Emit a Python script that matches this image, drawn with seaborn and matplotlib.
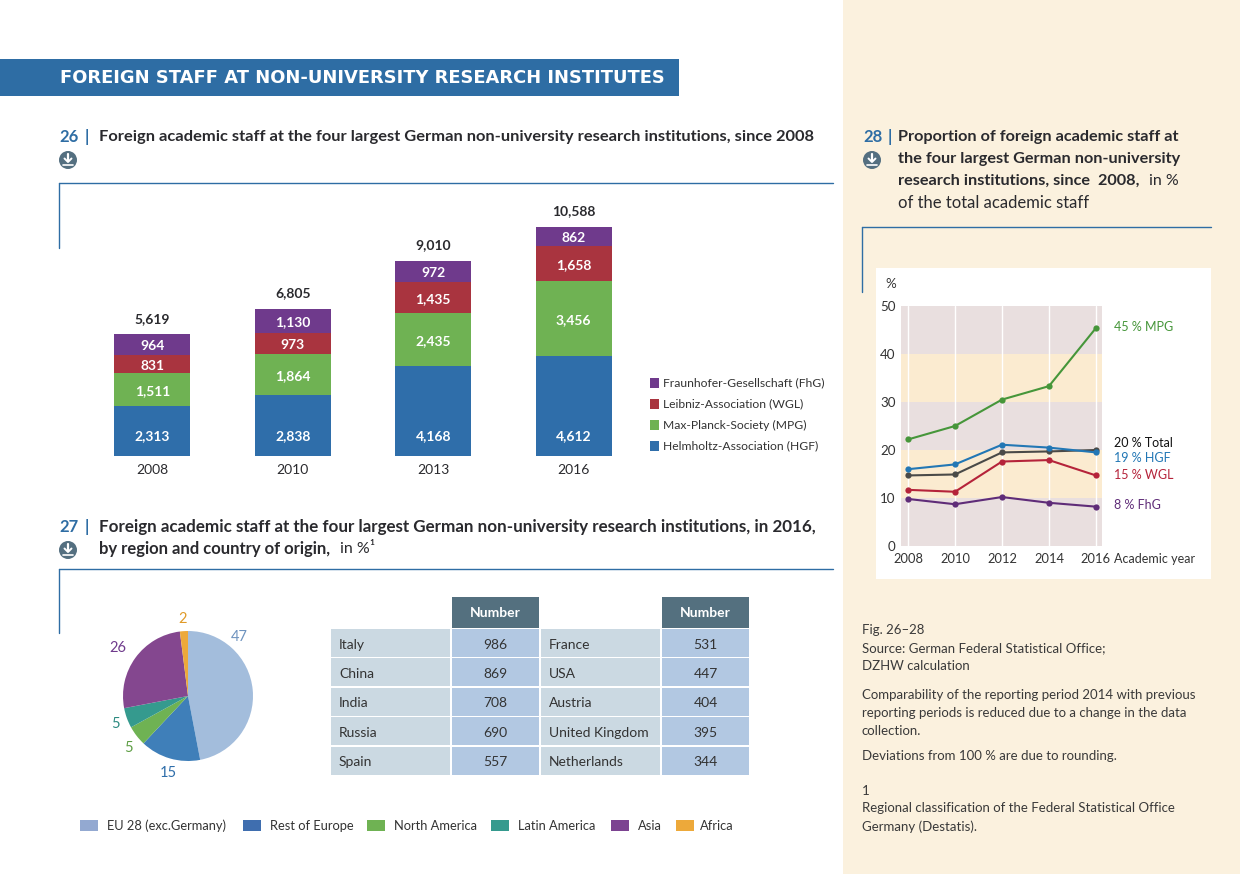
import matplotlib
matplotlib.use("Agg")
import matplotlib.pyplot as plt
from matplotlib.patches import Rectangle, Circle
import pandas as pd
import seaborn as sns

W, H = 1240, 874

# Fig. 26
bar_years = ["2008", "2010", "2013", "2016"]
hgf_staff = [2313, 2838, 4168, 4612]
mpg_staff = [1511, 1864, 2435, 3456]
wgl_staff = [831, 973, 1435, 1658]
fhg_staff = [964, 1130, 972, 862]
bar_totals = [5619, 6805, 9010, 10588]
bar_legend = ["Fraunhofer-Gesellschaft (FhG)", "Leibniz-Association (WGL)",
              "Max-Planck-Society (MPG)", "Helmholtz-Association (HGF)"]

# Fig. 27
region_names = ["EU 28 (exc.Germany)", "Rest of Europe", "North America",
                "Latin America", "Asia", "Africa"]
region_share = [47, 15, 5, 5, 26, 2]
countries_left = ["Italy", "China", "India", "Russia", "Spain"]
numbers_left = [986, 869, 708, 690, 557]
countries_right = ["France", "USA", "Austria", "United Kingdom", "Netherlands"]
numbers_right = [531, 447, 404, 395, 344]

# Fig. 28
line_years = [2008, 2010, 2012, 2014, 2016]
share_mpg = [22.2, 25.0, 30.5, 33.3, 45.4]
share_hgf = [16.0, 17.0, 21.1, 20.5, 19.5]
share_total = [14.7, 14.9, 19.5, 19.7, 20.0]
share_wgl = [11.7, 11.3, 17.6, 17.9, 14.7]
share_fhg = [9.8, 8.7, 10.2, 9.0, 8.2]

BLUE = "#2E6DA4"
HGF_C, MPG_C, WGL_C, FHG_C = "#2F6EAA", "#6FB253", "#A9343F", "#6F3A8C"
DARK = "#2A2A2E"
BODY = ["Lato", "DejaVu Sans"]

sns.set_theme(style="white")
plt.rcParams["font.family"] = BODY

fig = plt.figure(figsize=(W / 100, H / 100), dpi=100, facecolor="white")


def px_axes(left, top, right, bottom):
    return fig.add_axes([left / W, 1 - bottom / H, (right - left) / W, (bottom - top) / H])


# page layer, in pixels
page = fig.add_axes([0, 0, 1, 1], zorder=0)
page.set_xlim(0, W)
page.set_ylim(H, 0)
page.axis("off")


def box(x0, y0, x1, y1, color):
    page.add_patch(Rectangle((x0, y0), x1 - x0, y1 - y0, color=color, lw=0))


def label(x, y, s, size=10, color=DARK, weight="normal", family=BODY, ha="left", va="center"):
    page.text(x, y + 1, s, fontsize=size, color=color, fontweight=weight, family=family, ha=ha, va=va)


def corner(x0, x1, y, y1):
    page.plot([x0, x1], [y, y], color=BLUE, lw=1)
    page.plot([x0, x0], [y, y1], color=BLUE, lw=1)


def download_icon(x, y):
    page.add_patch(Circle((x, y), 9, color="#546F80", lw=0))
    page.plot([x, x], [y - 6, y + 1], color="white", lw=1.6)
    page.plot([x - 3.5, x, x + 3.5], [y - 1.5, y + 2, y - 1.5], color="white", lw=1.4)
    page.plot([x - 5, x + 5], [y + 4.5, y + 4.5], color="white", lw=1.2)


box(843, 0, W, H, "#FBF1DE")
box(876, 268, 1211, 579, "white")
box(0, 59, 679, 96, BLUE)
label(60, 77, "FOREIGN STAFF AT NON-UNIVERSITY RESEARCH INSTITUTES", size=12.85, color="white",
      weight="bold", family=["DejaVu Sans"])

# headings
label(59, 136, "26", 12, BLUE, "bold")
label(85, 136, "|", 12, BLUE, "bold")
label(99, 136, "Foreign academic staff at the four largest German non-university research institutions, since 2008",
      11.85, DARK, "bold")
download_icon(68, 160)
corner(59, 833, 183, 248)

label(59, 526, "27", 12, BLUE, "bold")
label(85, 526, "|", 12, BLUE, "bold")
label(99, 526, "Foreign academic staff at the four largest German non-university research institutions, in 2016,",
      12.25, DARK, "bold")
label(99, 548, "by region and country of origin,", 12, DARK, "bold")
label(340, 548, "in %¹", 11.5)
download_icon(68, 550)
corner(59, 833, 569, 633)

label(863, 136, "28", 12, BLUE, "bold")
label(888, 136, "|", 12, BLUE, "bold")
for y, s in zip([136, 158, 180], ["Proportion of foreign academic staff at",
                                  "the four largest German non-university",
                                  "research institutions, since  2008,"]):
    label(898, y, s, 11.7, DARK, "bold")
label(1149, 180, "in %", 11.5)
label(898, 202, "of the total academic staff", 12)
download_icon(872, 160)
corner(862, 1211, 227, 292)

# notes
notes = [(629, "Fig. 26–28"), (647, "Source: German Federal Statistical Office;"),
         (665, "DZHW calculation"),
         (694, "Comparability of the reporting period 2014 with previous"),
         (712, "reporting periods is reduced due to a change in the data"),
         (730, "collection."), (755, "Deviations from 100 % are due to rounding."),
         (790, "1"), (807, "Regional classification of the Federal Statistical Office"),
         (826, "Germany (Destatis).")]
for y, s in notes:
    label(862, y, s, 9.5, "#3A3A3A")

# Fig. 26 stacked bars
ax = px_axes(82, 200, 644, 456)
ax.patch.set_alpha(0)
bottom = [0, 0, 0, 0]
for values, color in [(hgf_staff, HGF_C), (mpg_staff, MPG_C), (wgl_staff, WGL_C), (fhg_staff, FHG_C)]:
    sns.barplot(x=bar_years, y=values, color=color, saturation=1, width=0.54, bottom=bottom,
                linewidth=0, ax=ax)
    for i, v in enumerate(values):
        # the lowest segment has its number near the base, the others are centred
        if bottom[i] == 0:
            anchor, shift = 0, 14
        else:
            anchor, shift = bottom[i] + v / 2, -1
        ax.annotate(f"{v:,}", (i, anchor), xytext=(0, shift), textcoords="offset points", ha="center",
                    va="center", color="white", fontweight="bold", fontsize=10)
    bottom = [b + v for b, v in zip(bottom, values)]
for i, total in enumerate(bar_totals):
    ax.annotate(f"{total:,}", (i, total), xytext=(0, 7), textcoords="offset points", ha="center",
                va="bottom", fontsize=10, fontweight="bold", color=DARK)
ax.set_ylim(0, 11835)
ax.set_xlim(-0.5, 3.5)
ax.set_yticks([])
ax.set_ylabel("")
ax.tick_params(axis="x", length=0, labelsize=10, labelcolor=DARK, pad=5.5)
sns.despine(ax=ax, left=True, bottom=True)

for y, s, c in zip([383, 404, 425, 446], bar_legend, [FHG_C, WGL_C, MPG_C, HGF_C]):
    box(650, y - 5, 659, y + 5, c)
    label(663, y - 1, s, 8.7, "#333333")

# Fig. 27 pie
pie_colors = ["#A3BDDC", "#3F7FB9", "#6FB253", "#359A8E", "#84478F", "#EDA93A"]
swatch_colors = ["#93A9D1", "#3F6EAF", "#6FB253", "#359A8E", "#7C4391", "#EDA93A"]
text_colors = ["#6E93BF", "#2F6EAA", "#5E9E45", "#2C8A80", "#6F3A8C", "#E09A28"]
pie_ax = px_axes(123, 631, 253, 761)
pie_ax.pie(region_share, colors=pie_colors, startangle=90, counterclock=False, radius=1,
           wedgeprops={"linewidth": 0})
pie_ax.set_xlim(-1, 1)
pie_ax.set_ylim(-1, 1)
pie_pos = [(239, 636), (168, 772), (128, 747), (115, 723), (118, 647), (183, 618)]
for (x, y), v, c in zip(pie_pos, region_share, text_colors):
    label(x, y, str(v), 10.5, c, ha="center")

swatch_x = [80, 243, 367, 491, 611, 676]
text_x = [107, 270, 394, 518, 638, 700]
for x, tx, name, c in zip(swatch_x, text_x, region_names, swatch_colors):
    box(x, 820, x + 18, 831, c)
    label(tx, 825, name, 9.3, "#333333")

# table next to the pie
row_top = 629
row_step = 29.4
for x0, x1, head in [(452, 539, "Number"), (662, 749, "Number")]:
    box(x0, 597, x1, 628, "#54707F")
    label((x0 + x1) / 2, 612, head, 10, "white", "bold", ha="center")
for i in range(len(countries_left)):
    y0 = row_top + i * row_step
    y1 = y0 + row_step - 1.5
    ym = (y0 + y1) / 2 + 0.7
    row = [(331, 450, countries_left[i]), (452, 539, numbers_left[i]),
           (541, 660, countries_right[i]), (662, 749, numbers_right[i])]
    for x0, x1, val in row:
        if isinstance(val, str):
            box(x0, y0, x1, y1, "#CBD9E2")
            label(x0 + 8, ym, val, 10, "#333333")
        else:
            box(x0, y0, x1, y1, "#B2C8E2")
            label((x0 + x1) / 2, ym, str(val), 10, "#333333", ha="center")

# Fig. 28 lines
line_ax = px_axes(901, 306, 1102, 546)
line_ax.patch.set_alpha(0)
for low in range(0, 50, 10):
    line_ax.axhspan(low, low + 10, color="#FBEBD0" if low in (10, 30) else "#E9DFDF", lw=0, zorder=0)
for yr in line_years:
    line_ax.axvline(yr, color="white", lw=1, zorder=1)

long_df = pd.DataFrame({"year": line_years * 5,
                        "share": share_fhg + share_wgl + share_total + share_hgf + share_mpg,
                        "inst": ["FhG"] * 5 + ["WGL"] * 5 + ["Total"] * 5 + ["HGF"] * 5 + ["MPG"] * 5})
line_colors = {"FhG": "#5F2C78", "WGL": "#B5233A", "Total": "#4A4A48", "HGF": "#2277B5", "MPG": "#46963A"}
sns.lineplot(data=long_df, x="year", y="share", hue="inst", palette=line_colors, marker="o",
             markersize=4.5, markeredgewidth=0, linewidth=1.5, legend=False, ax=line_ax, zorder=3)
line_ax.set_xlim(2007.70, 2016.26)
line_ax.set_ylim(0, 50)
line_ax.set_xticks(line_years)
line_ax.set_yticks(range(0, 51, 10))
line_ax.set_xlabel("")
line_ax.set_ylabel("")
line_ax.tick_params(axis="x", length=0, labelsize=9.3, labelcolor="#333333", pad=5)
line_ax.tick_params(axis="y", length=0, labelsize=9.6, labelcolor="#333333", pad=4)
sns.despine(ax=line_ax, left=True, bottom=True)

label(891, 283, "%", 9.6, "#333333", ha="center")
label(1114, 558, "Academic year", 9, "#333333")
for y, s, c in [(326, "45 % MPG", "#46963A"), (442, "20 % Total", "#111111"), (457, "19 % HGF", "#2277B5"),
                (474, "15 % WGL", "#B5233A"), (504, "8 % FhG", "#5F2C78")]:
    label(1114, y, s, 9, c)

fig.savefig("out.png", dpi=100)
